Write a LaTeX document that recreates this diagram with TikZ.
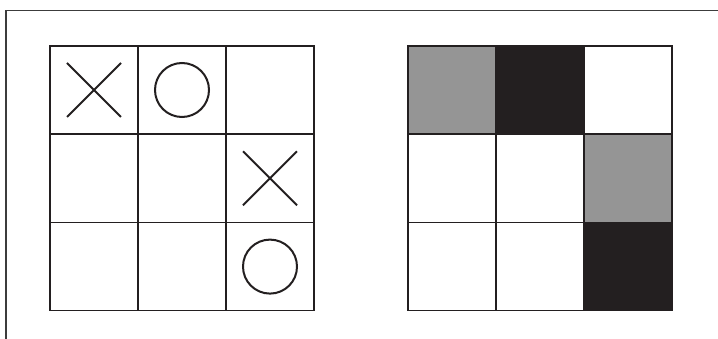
\documentclass[tikz,border=0pt]{standalone}
\definecolor{cellgray}{HTML}{959595}
\definecolor{cellblack}{HTML}{231F20}
\definecolor{framegray}{HTML}{3C3C3C}
\begin{document}
\begin{tikzpicture}[x=1pt,y=-1pt,
  cell/.style={draw=cellblack,line width=1.5pt,minimum size=88pt,inner sep=0pt,outer sep=0pt,fill=white},
  xomark/.style={draw=cellblack,line width=2pt},
  framel/.style={draw=framegray,line width=1.4pt}]
\useasboundingbox (0,0) rectangle (718,339);
% outer frame
\coordinate (ftop) at (718,10.5);
\coordinate (fcorner) at (6,10.5);
\coordinate (fbot) at (6,339);
\draw[framel] (ftop) -- (fcorner) -- (fbot);
% left grid
\foreach \r in {0,1,2}{
  \foreach \c in {0,1,2}{
    \node[cell] (L\r\c) at ({94+88*\c},{90+88.3*\r}) {};
  }
}
% right grid
\foreach \r in {0,1,2}{
  \foreach \c in {0,1,2}{
    \node[cell] (R\r\c) at ({452+88*\c},{90+88.3*\r}) {};
  }
}
\node[cell,fill=cellgray] (R00b) at (R00) {};
\node[cell,fill=cellblack] (R01b) at (R01) {};
\node[cell,fill=cellgray] (R12b) at (R12) {};
\node[cell,fill=cellblack] (R22b) at (R22) {};
% marks
\draw[xomark] ([shift={(-27,-27)}]L00.center) -- ([shift={(27,27)}]L00.center)
            ([shift={(27,-27)}]L00.center) -- ([shift={(-27,27)}]L00.center);
\draw[xomark] ([shift={(-27,-27)}]L12.center) -- ([shift={(27,27)}]L12.center)
            ([shift={(27,-27)}]L12.center) -- ([shift={(-27,27)}]L12.center);
\draw[xomark] (L01.center) circle[radius=27];
\draw[xomark] (L22.center) circle[radius=27];
\end{tikzpicture}
\end{document}
